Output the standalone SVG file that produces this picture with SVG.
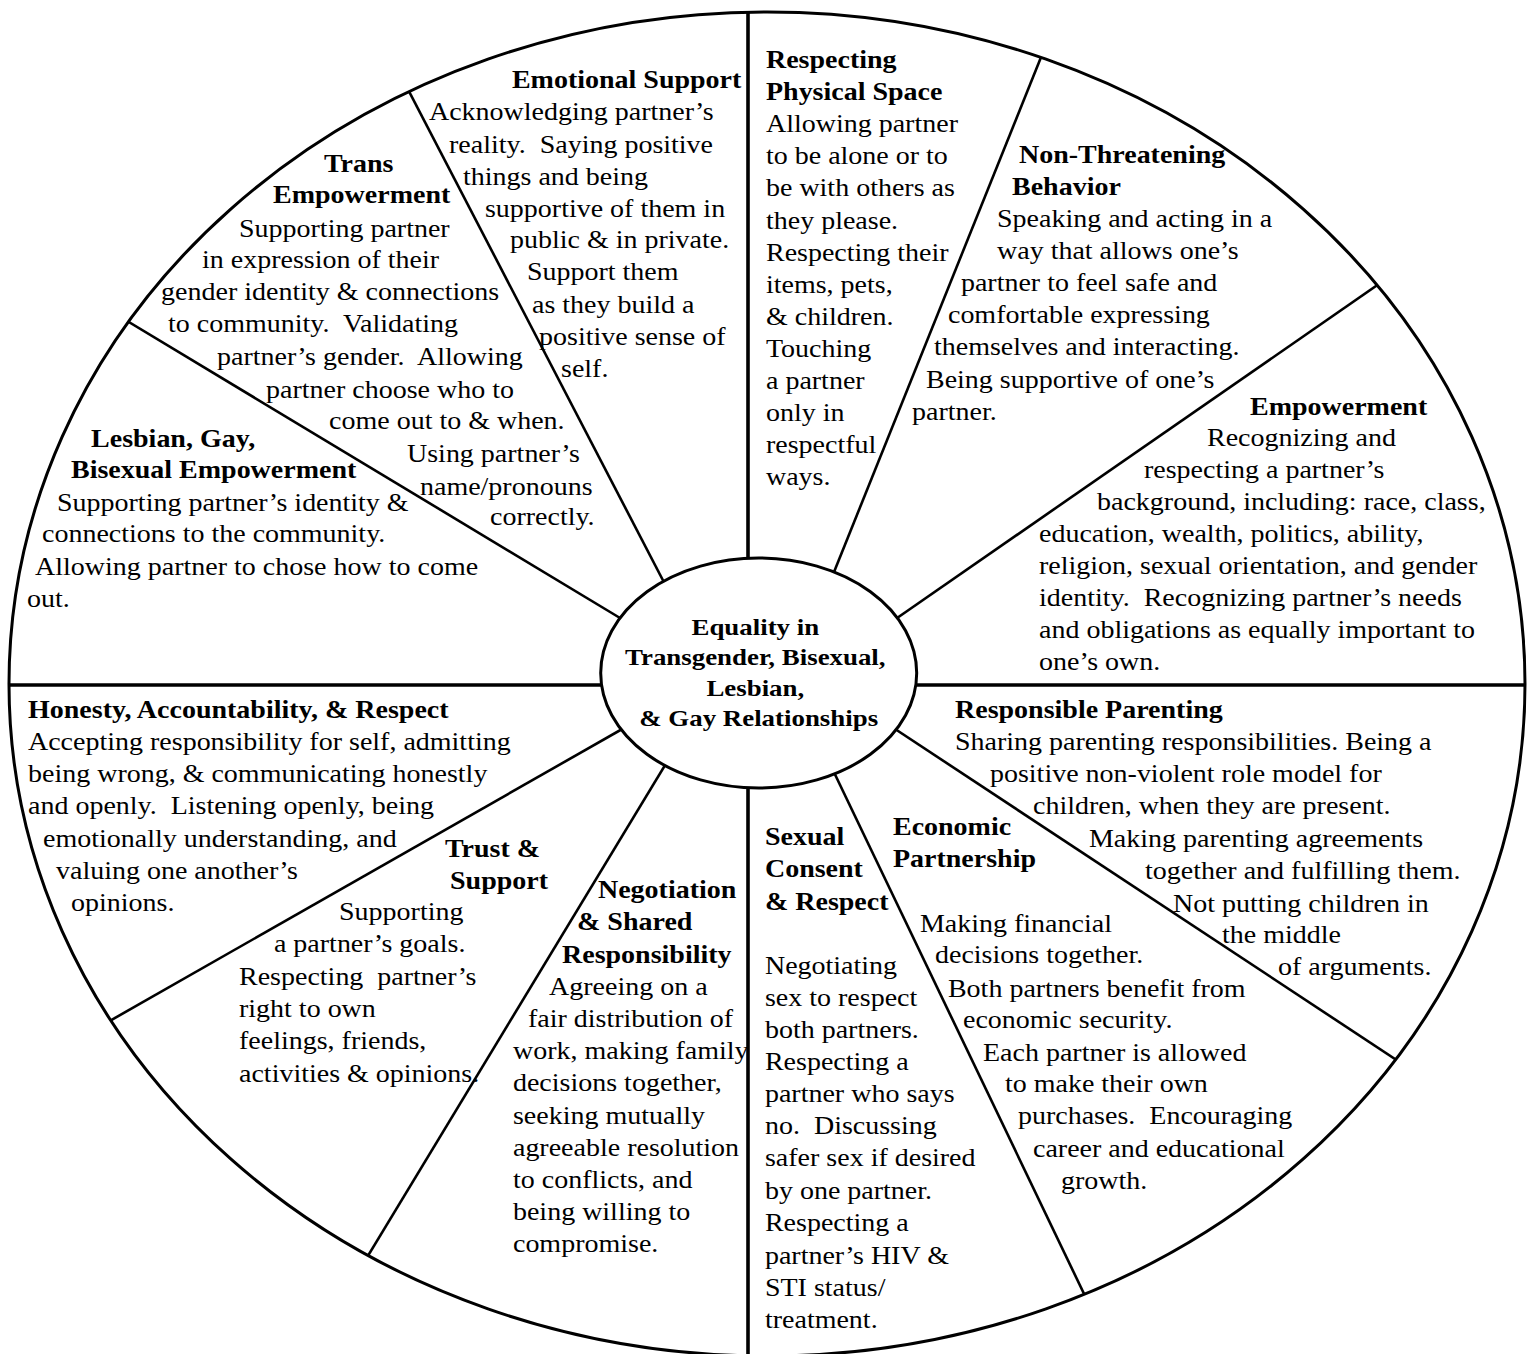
<svg xmlns="http://www.w3.org/2000/svg" width="1531" height="1354" viewBox="0 0 1531 1354">
<style>
.bg{fill:#fff}
.disc{fill:#fff;stroke:none}
.outer{fill:none;stroke:#000;stroke-width:3}
.cross{stroke:#000;stroke-width:3.6;fill:none}
.spoke{stroke:#000;stroke-width:2.6;fill:none}
.hub{fill:#fff;stroke:#000;stroke-width:3}
.t{font-family:"Liberation Serif","Times New Roman",serif;font-size:25px;fill:#000}
.b{font-weight:bold}
.c{font-family:"Liberation Serif","Times New Roman",serif;font-size:24px;font-weight:bold;fill:#000;text-anchor:middle}
</style>
<defs>
<clipPath id="wheelClip">
<ellipse cx="767" cy="684" rx="758" ry="672"/>
</clipPath>
</defs>
<rect class="bg" x="0" y="0" width="1531" height="1354"/>
<g id="wheel-fill">
<ellipse class="disc" cx="767" cy="684" rx="758" ry="672"/>
</g>
<g id="connectors" clip-path="url(#wheelClip)">
<line class="cross" x1="748" y1="0" x2="748" y2="600"/>
<line class="cross" x1="748" y1="740" x2="748" y2="1360"/>
<line class="cross" x1="0" y1="685" x2="650" y2="685"/>
<line class="cross" x1="870" y1="685" x2="1531" y2="685"/>
<line class="spoke" x1="387" y1="49" x2="668" y2="590"/>
<line class="spoke" x1="89" y1="298" x2="630" y2="624"/>
<line class="spoke" x1="1062" y1="5" x2="830" y2="582"/>
<line class="spoke" x1="1425" y1="252" x2="887" y2="625"/>
<line class="spoke" x1="64" y1="1047" x2="631" y2="724"/>
<line class="spoke" x1="340" y1="1302" x2="670" y2="757"/>
<line class="spoke" x1="1110" y1="1348" x2="830" y2="764"/>
<line class="spoke" x1="1448" y1="1094" x2="886" y2="723"/>
</g>
<g id="wheel">
<ellipse class="outer" cx="767" cy="684" rx="758" ry="672"/>
</g>
<g id="center">
<ellipse class="hub" cx="758.7" cy="673" rx="158" ry="115"/>
<text class="c" transform="scale(1.12 1)">
<tspan x="677.4" y="635">Equality in</tspan>
<tspan x="677.4" y="665">Transgender, Bisexual,</tspan>
<tspan x="677.4" y="696">Lesbian,</tspan>
<tspan x="677.4" y="726">&amp; Gay Relationships</tspan>
</text>
</g>
<g id="emotional-support">
<text class="t" transform="scale(1.12 1)">
<tspan class="b" x="457.1" y="88">Emotional Support</tspan>
<tspan x="383" y="120">Acknowledging partner’s</tspan>
<tspan x="400.9" y="153">reality.&#160; Saying positive</tspan>
<tspan x="413.4" y="185">things and being</tspan>
<tspan x="433" y="217">supportive of them in</tspan>
<tspan x="455.4" y="248">public &amp; in private.</tspan>
<tspan x="470.5" y="280">Support them</tspan>
<tspan x="475" y="313">as they build a</tspan>
<tspan x="481.3" y="345">positive sense of</tspan>
<tspan x="500.9" y="377">self.</tspan>
</text>
</g>
<g id="trans-empowerment">
<text class="t" transform="scale(1.12 1)">
<tspan class="b" x="289.3" y="172">Trans</tspan>
<tspan class="b" x="243.8" y="203">Empowerment</tspan>
<tspan x="213.4" y="237">Supporting partner</tspan>
<tspan x="180.4" y="268">in expression of their</tspan>
<tspan x="143.8" y="300">gender identity &amp; connections</tspan>
<tspan x="150" y="332">to community.&#160; Validating</tspan>
<tspan x="193.8" y="365">partner’s gender.&#160; Allowing</tspan>
<tspan x="237.5" y="398">partner choose who to</tspan>
<tspan x="293.8" y="429">come out to &amp; when.</tspan>
<tspan x="363.4" y="462">Using partner’s</tspan>
<tspan x="375" y="495">name/pronouns</tspan>
<tspan x="437.5" y="525">correctly.</tspan>
</text>
</g>
<g id="lgb-empowerment">
<text class="t" transform="scale(1.12 1)">
<tspan class="b" x="81.3" y="447">Lesbian, Gay,</tspan>
<tspan class="b" x="63.4" y="478">Bisexual Empowerment</tspan>
<tspan x="50.9" y="511">Supporting partner’s identity &amp;</tspan>
<tspan x="37.5" y="542">connections to the community.</tspan>
<tspan x="31.3" y="575">Allowing partner to chose how to come</tspan>
<tspan x="24.1" y="607">out.</tspan>
</text>
</g>
<g id="physical-space">
<text class="t" transform="scale(1.12 1)">
<tspan class="b" x="683.9" y="68">Respecting</tspan>
<tspan class="b" x="683.9" y="100">Physical Space</tspan>
<tspan x="683.9" y="132">Allowing partner</tspan>
<tspan x="683.9" y="164">to be alone or to</tspan>
<tspan x="683.9" y="196">be with others as</tspan>
<tspan x="683.9" y="229">they please.</tspan>
<tspan x="683.9" y="261">Respecting their</tspan>
<tspan x="683.9" y="293">items, pets,</tspan>
<tspan x="683.9" y="325">&amp; children.</tspan>
<tspan x="683.9" y="357">Touching</tspan>
<tspan x="683.9" y="389">a partner</tspan>
<tspan x="683.9" y="421">only in</tspan>
<tspan x="683.9" y="453">respectful</tspan>
<tspan x="683.9" y="485">ways.</tspan>
</text>
</g>
<g id="non-threatening">
<text class="t" transform="scale(1.12 1)">
<tspan class="b" x="909.8" y="163">Non-Threatening</tspan>
<tspan class="b" x="903.6" y="195">Behavior</tspan>
<tspan x="890.2" y="227">Speaking and acting in a</tspan>
<tspan x="890.2" y="259">way that allows one’s</tspan>
<tspan x="858" y="291">partner to feel safe and</tspan>
<tspan x="846.4" y="323">comfortable expressing</tspan>
<tspan x="833.9" y="355">themselves and interacting.</tspan>
<tspan x="826.8" y="388">Being supportive of one’s</tspan>
<tspan x="814.3" y="420">partner.</tspan>
</text>
</g>
<g id="empowerment">
<text class="t" transform="scale(1.12 1)">
<tspan class="b" x="1116.1" y="415">Empowerment</tspan>
<tspan x="1077.7" y="446">Recognizing and</tspan>
<tspan x="1021.4" y="478">respecting a partner’s</tspan>
<tspan x="979.5" y="510">background, including: race, class,</tspan>
<tspan x="927.7" y="542">education, wealth, politics, ability,</tspan>
<tspan x="927.7" y="574">religion, sexual orientation, and gender</tspan>
<tspan x="927.7" y="606">identity.&#160; Recognizing partner’s needs</tspan>
<tspan x="927.7" y="638">and obligations as equally important to</tspan>
<tspan x="927.7" y="670">one’s own.</tspan>
</text>
</g>
<g id="honesty">
<text class="t" transform="scale(1.12 1)">
<tspan class="b" x="25" y="718">Honesty, Accountability, &amp; Respect</tspan>
<tspan x="25" y="750">Accepting responsibility for self, admitting</tspan>
<tspan x="25" y="782">being wrong, &amp; communicating honestly</tspan>
<tspan x="25" y="814">and openly.&#160; Listening openly, being</tspan>
<tspan x="38.4" y="847">emotionally understanding, and</tspan>
<tspan x="50" y="879">valuing one another’s</tspan>
<tspan x="63.4" y="911">opinions.</tspan>
</text>
</g>
<g id="trust-support">
<text class="t" transform="scale(1.12 1)">
<tspan class="b" x="397.3" y="857">Trust &amp;</tspan>
<tspan class="b" x="401.8" y="889">Support</tspan>
<tspan x="302.7" y="920">Supporting</tspan>
<tspan x="244.6" y="952">a partner’s goals.</tspan>
<tspan x="213.4" y="985">Respecting&#160; partner’s</tspan>
<tspan x="213.4" y="1017">right to own</tspan>
<tspan x="213.4" y="1049">feelings, friends,</tspan>
<tspan x="213.4" y="1082">activities &amp; opinions.</tspan>
</text>
</g>
<g id="negotiation">
<text class="t" transform="scale(1.12 1)">
<tspan class="b" x="533.9" y="898">Negotiation</tspan>
<tspan class="b" x="515.2" y="930">&amp; Shared</tspan>
<tspan class="b" x="501.8" y="963">Responsibility</tspan>
<tspan x="490.2" y="995">Agreeing on a</tspan>
<tspan x="471.4" y="1027">fair distribution of</tspan>
<tspan x="458" y="1059">work, making family</tspan>
<tspan x="458" y="1091">decisions together,</tspan>
<tspan x="458" y="1124">seeking mutually</tspan>
<tspan x="458" y="1156">agreeable resolution</tspan>
<tspan x="458" y="1188">to conflicts, and</tspan>
<tspan x="458" y="1220">being willing to</tspan>
<tspan x="458" y="1252">compromise.</tspan>
</text>
</g>
<g id="responsible-parenting">
<text class="t" transform="scale(1.12 1)">
<tspan class="b" x="852.7" y="718">Responsible Parenting</tspan>
<tspan x="852.7" y="750">Sharing parenting responsibilities. Being a</tspan>
<tspan x="883.9" y="782">positive non-violent role model for</tspan>
<tspan x="922.3" y="814">children, when they are present.</tspan>
<tspan x="972.3" y="847">Making parenting agreements</tspan>
<tspan x="1022.3" y="879">together and fulfilling them.</tspan>
<tspan x="1047.3" y="912">Not putting children in</tspan>
<tspan x="1091.1" y="943">the middle</tspan>
<tspan x="1141.1" y="975">of arguments.</tspan>
</text>
</g>
<g id="sexual-consent">
<text class="t" transform="scale(1.12 1)">
<tspan class="b" x="683" y="845">Sexual</tspan>
<tspan class="b" x="683" y="877">Consent</tspan>
<tspan class="b" x="683" y="910">&amp; Respect</tspan>
<tspan x="683" y="974">Negotiating</tspan>
<tspan x="683" y="1006">sex to respect</tspan>
<tspan x="683" y="1038">both partners.</tspan>
<tspan x="683" y="1070">Respecting a</tspan>
<tspan x="683" y="1102">partner who says</tspan>
<tspan x="683" y="1134">no.&#160; Discussing</tspan>
<tspan x="683" y="1166">safer sex if desired</tspan>
<tspan x="683" y="1199">by one partner.</tspan>
<tspan x="683" y="1231">Respecting a</tspan>
<tspan x="683" y="1264">partner’s HIV &amp;</tspan>
<tspan x="683" y="1296">STI status/</tspan>
<tspan x="683" y="1328">treatment.</tspan>
</text>
</g>
<g id="economic-partnership">
<text class="t" transform="scale(1.12 1)">
<tspan class="b" x="797.3" y="835">Economic</tspan>
<tspan class="b" x="797.3" y="867">Partnership</tspan>
<tspan x="821.4" y="932">Making financial</tspan>
<tspan x="834.8" y="963">decisions together.</tspan>
<tspan x="846.4" y="997">Both partners benefit from</tspan>
<tspan x="859.8" y="1028">economic security.</tspan>
<tspan x="877.7" y="1061">Each partner is allowed</tspan>
<tspan x="897.3" y="1092">to make their own</tspan>
<tspan x="908.9" y="1124">purchases.&#160; Encouraging</tspan>
<tspan x="922.3" y="1157">career and educational</tspan>
<tspan x="947.3" y="1189">growth.</tspan>
</text>
</g>
</svg>
